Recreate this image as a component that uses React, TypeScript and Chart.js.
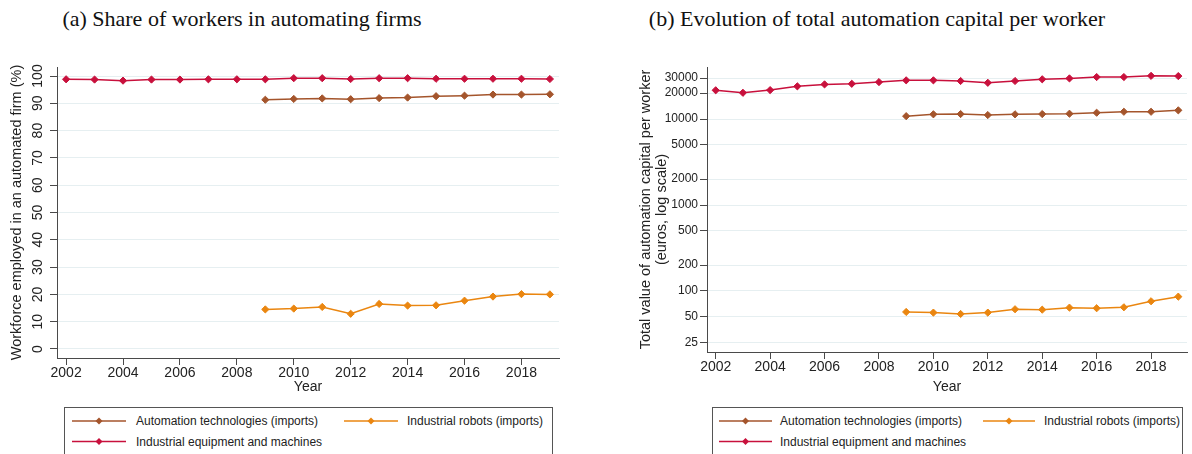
import React, { useEffect, useRef } from "react";
import { Chart, registerables } from "chart.js";
Chart.register(...registerables);

const years = [2002, 2003, 2004, 2005, 2006, 2007, 2008, 2009, 2010, 2011, 2012, 2013, 2014, 2015, 2016, 2017, 2018, 2019];
const yearsSub = [2009, 2010, 2011, 2012, 2013, 2014, 2015, 2016, 2017, 2018, 2019];
const yearTicks = [2002, 2004, 2006, 2008, 2010, 2012, 2014, 2016, 2018];

const shareEquipment = [98.8, 98.7, 98.3, 98.7, 98.7, 98.8, 98.8, 98.8, 99.2, 99.2, 98.9, 99.2, 99.2, 99.0, 99.0, 99.0, 99.0, 98.9];
const shareAutomation = [91.3, 91.6, 91.8, 91.5, 91.9, 92.1, 92.6, 92.8, 93.2, 93.2, 93.3];
const shareRobots = [14.5, 14.8, 15.4, 12.9, 16.5, 15.9, 16.0, 17.7, 19.2, 20.1, 20.0];
const shareTicks = [0, 10, 20, 30, 40, 50, 60, 70, 80, 90, 100];

const capEquipment = [21600, 20200, 21700, 24000, 25300, 25700, 26900, 28200, 28200, 27700, 26400, 27700, 29000, 29700, 30800, 30800, 31800, 31600];
const capAutomation = [10800, 11350, 11430, 11130, 11350, 11430, 11530, 11840, 12150, 12150, 12620];
const capRobots = [57, 56, 54, 56, 61.3, 60.6, 64, 63, 64.6, 75.9, 85.9];
const capTicks = [25, 50, 100, 200, 500, 1000, 2000, 5000, 10000, 20000, 30000];

const seriesNames = ["Automation technologies (imports)", "Industrial robots (imports)", "Industrial equipment and machines"];
const seriesColors = ["#a4552c", "#ea8610", "#c8103c"];

const SANS = "'Liberation Sans', Arial, sans-serif";
const AXIS = "#4a4a4a";
const GRID = "#e6eff1";
const TXT = "#222222";

function pts(xs: number[], ys: number[]) {
  return xs.map((x, i) => ({ x, y: ys[i] }));
}

function ds(label: string, color: string, data: { x: number; y: number }[]) {
  return {
    label,
    data,
    borderColor: color,
    backgroundColor: color,
    borderWidth: 1.5,
    pointStyle: "rectRot",
    pointRadius: 3.6,
    pointBorderWidth: 1,
    pointBackgroundColor: color,
    pointBorderColor: color,
    tension: 0,
  };
}

function zeroPad(s: any) {
  s.paddingLeft = 0;
  s.paddingRight = 0;
  s.paddingTop = 0;
  s.paddingBottom = 0;
}

function makeConfig(kind: "share" | "cap"): any {
  const isShare = kind === "share";
  const datasets = isShare
    ? [
        ds(seriesNames[0], seriesColors[0], pts(yearsSub, shareAutomation)),
        ds(seriesNames[1], seriesColors[1], pts(yearsSub, shareRobots)),
        ds(seriesNames[2], seriesColors[2], pts(years, shareEquipment)),
      ]
    : [
        ds(seriesNames[0], seriesColors[0], pts(yearsSub, capAutomation)),
        ds(seriesNames[1], seriesColors[1], pts(yearsSub, capRobots)),
        ds(seriesNames[2], seriesColors[2], pts(years, capEquipment)),
      ];
  const yTickVals = isShare ? shareTicks : capTicks;
  return {
    type: "line",
    data: { datasets },
    options: {
      animation: false,
      responsive: false,
      maintainAspectRatio: false,
      layout: { padding: isShare ? { top: 7, right: 31, left: 0, bottom: 0 } : { top: 7, right: 5, left: 0, bottom: 0 } },
      plugins: { legend: { display: false }, tooltip: { enabled: false }, title: { display: false } },
      scales: {
        x: {
          type: "linear",
          min: 2001.68,
          max: 2019.32,
          afterBuildTicks: (s: any) => {
            s.ticks = yearTicks.map((v) => ({ value: v }));
          },
          afterFit: (s: any) => {
            s.height = isShare ? 38 : 44;
            zeroPad(s);
          },
          ticks: {
            autoSkip: false,
            maxRotation: 0,
            minRotation: 0,
            padding: 0,
            color: TXT,
            font: { family: SANS, size: 14 },
            callback: (v: any) => String(v),
          },
          grid: { drawOnChartArea: false, drawTicks: true, tickLength: 7, tickColor: AXIS, tickWidth: 1 },
          border: { display: true, color: AXIS, width: 1 },
          title: { display: true, text: "Year", color: TXT, font: { family: SANS, size: 14 }, padding: { top: 0, bottom: 0 } },
        },
        y: isShare
          ? {
              type: "linear",
              min: -3.3,
              max: 103.3,
              afterBuildTicks: (s: any) => {
                s.ticks = yTickVals.map((v) => ({ value: v }));
              },
              afterFit: (s: any) => {
                s.width = 57;
                zeroPad(s);
              },
              ticks: {
                autoSkip: false,
                minRotation: 90,
                maxRotation: 90,
                crossAlign: "center",
                padding: 0,
                color: TXT,
                font: { family: SANS, size: 14 },
                callback: (v: any) => String(v),
              },
              grid: { color: GRID, lineWidth: 1, drawTicks: true, tickLength: 7, tickColor: AXIS, tickWidth: 1 },
              border: { display: true, color: AXIS, width: 1 },
              title: {
                display: true,
                text: "Workforce employed in an automated firm (%)",
                color: TXT,
                font: { family: SANS, size: 14.5, lineHeight: 1.1 },
                padding: { top: 9, bottom: 0 },
              },
            }
          : {
              type: "logarithmic",
              min: 19.5,
              max: 40300,
              afterBuildTicks: (s: any) => {
                s.ticks = yTickVals.map((v) => ({ value: v }));
              },
              afterFit: (s: any) => {
                s.width = 107;
                zeroPad(s);
              },
              ticks: {
                autoSkip: false,
                padding: 2,
                color: TXT,
                font: { family: SANS, size: 12 },
                callback: (v: any) => String(v),
              },
              grid: { color: GRID, lineWidth: 1, drawTicks: true, tickLength: 7, tickColor: AXIS, tickWidth: 1 },
              border: { display: true, color: AXIS, width: 1 },
              title: {
                display: true,
                text: ["Total value of automation capital per worker", "(euros, log scale)"],
                color: TXT,
                font: { family: SANS, size: 14.5, lineHeight: 1.1 },
                padding: { top: 38, bottom: 0 },
              },
            },
      },
    },
  };
}

function ChartCanvas({ kind, left, top, width, height }: { kind: "share" | "cap"; left: number; top: number; width: number; height: number }) {
  const ref = useRef<HTMLCanvasElement | null>(null);
  useEffect(() => {
    if (!ref.current) return;
    const c = new Chart(ref.current, makeConfig(kind));
    return () => c.destroy();
  }, [kind]);
  return (
    <div style={{ position: "absolute", left, top, width, height }}>
      <canvas ref={ref} width={width} height={height} style={{ width, height, display: "block" }} />
    </div>
  );
}

function LegendItem({ x, y, lineX0, lineX1, color, text, textX }: any) {
  const mid = (lineX0 + lineX1) / 2;
  return (
    <>
      <svg style={{ position: "absolute", left: 0, top: 0, overflow: "visible" }} width={1} height={1}>
        <line x1={lineX0} y1={y} x2={lineX1} y2={y} stroke={color} strokeWidth={1.5} />
        <polygon points={`${mid - 3.5},${y} ${mid},${y - 3.5} ${mid + 3.5},${y} ${mid},${y + 3.5}`} fill={color} />
      </svg>
      <div
        style={{
          position: "absolute",
          left: textX,
          top: y - 8,
          height: 16,
          lineHeight: "16px",
          fontFamily: SANS,
          fontSize: 12,
          color: TXT,
          whiteSpace: "nowrap",
        }}
      >
        {text}
      </div>
    </>
  );
}

function Legend({ left, width, col1, col2 }: { left: number; width: number; col1: number[]; col2: number[] }) {
  // col arrays: [lineX0, lineX1, textX] relative to the box
  return (
    <div
      style={{
        position: "absolute",
        left,
        top: 407,
        width,
        height: 52,
        border: "1px solid #555",
        boxSizing: "border-box",
        background: "#fff",
      }}
    >
      <LegendItem y={13} lineX0={col1[0]} lineX1={col1[1]} textX={col1[2]} color={seriesColors[0]} text={seriesNames[0]} />
      <LegendItem y={13} lineX0={col2[0]} lineX1={col2[1]} textX={col2[2]} color={seriesColors[1]} text={seriesNames[1]} />
      <LegendItem y={33.5} lineX0={col1[0]} lineX1={col1[1]} textX={col1[2]} color={seriesColors[2]} text={seriesNames[2]} />
    </div>
  );
}

const TITLE_FONT = "'Liberation Serif', 'Times New Roman', serif";

export default function App() {
  return (
    <div style={{ position: "fixed", left: 0, top: 0, width: 1192, height: 454, background: "#fff", overflow: "hidden" }}>
      <div
        style={{
          position: "absolute",
          left: 0,
          width: 484,
          top: 6,
          textAlign: "center",
          fontFamily: TITLE_FONT,
          fontSize: 22,
          lineHeight: "26px",
          color: "#111",
          whiteSpace: "nowrap",
        }}
      >
        (a) Share of workers in automating firms
      </div>
      <div
        style={{
          position: "absolute",
          left: 577,
          width: 600,
          top: 6,
          textAlign: "center",
          fontFamily: TITLE_FONT,
          fontSize: 22,
          lineHeight: "26px",
          color: "#111",
          whiteSpace: "nowrap",
        }}
      >
        (b) Evolution of total automation capital per worker
      </div>
      <ChartCanvas kind="share" left={0} top={60} width={590} height={336} />
      <ChartCanvas kind="cap" left={600} top={60} width={592} height={336} />
      <Legend left={64} width={489} col1={[7, 61, 71]} col2={[279, 333, 342]} />
      <Legend left={712} width={471} col1={[6, 59, 67]} col2={[270, 322, 331]} />
    </div>
  );
}
